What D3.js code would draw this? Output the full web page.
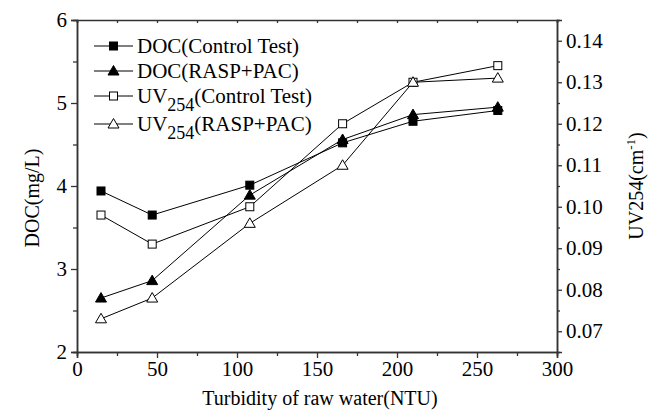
<!DOCTYPE html>
<html>
<head>
<meta charset="utf-8">
<script src="https://d3js.org/d3.v7.min.js"></script>
<style>
  body { margin: 0; background: #fff; }
  text { font-family: "Liberation Serif", "Times New Roman", serif; fill: #000; }
</style>
</head>
<body>
<script>
var svgWidth = 657;
var svgHeight = 417;

// plot box
var margin = { top: 20, right: 100, bottom: 65, left: 77 };
var chartWidth = svgWidth - margin.left - margin.right;
var chartHeight = svgHeight - margin.top - margin.bottom;

// data
var turbidity = [15, 47, 108, 166, 210, 263];
var docControl = [3.94, 3.65, 4.01, 4.52, 4.78, 4.91];
var docRasp = [2.65, 2.86, 3.89, 4.56, 4.86, 4.95];
var uvControl = [0.098, 0.091, 0.100, 0.120, 0.130, 0.134];
var uvRasp = [0.073, 0.078, 0.096, 0.110, 0.130, 0.131];

var xTicks = [0, 50, 100, 150, 200, 250, 300];
var xMinor = [25, 75, 125, 175, 225, 275];
var yLeftTicks = [2, 3, 4, 5, 6];
var yLeftMinor = [2.5, 3.5, 4.5, 5.5];
var yRightTicks = [0.07, 0.08, 0.09, 0.10, 0.11, 0.12, 0.13, 0.14];
var yRightMinor = [0.075, 0.085, 0.095, 0.105, 0.115, 0.125, 0.135];

var series = [
  { name: "DOC", sub: "", rest: "(Control Test)", values: docControl, axis: "left", shape: "square", fill: "#000" },
  { name: "DOC", sub: "", rest: "(RASP+PAC)", values: docRasp, axis: "left", shape: "triangle", fill: "#000" },
  { name: "UV", sub: "254", rest: "(Control Test)", values: uvControl, axis: "right", shape: "square", fill: "#fff" },
  { name: "UV", sub: "254", rest: "(RASP+PAC)", values: uvRasp, axis: "right", shape: "triangle", fill: "#fff" }
];

var svg = d3.select("body").append("svg")
  .attr("width", svgWidth)
  .attr("height", svgHeight);

var chartGroup = svg.append("g")
  .attr("transform", `translate(${margin.left}, ${margin.top})`);

var xScale = d3.scaleLinear().domain([0, 300]).range([0, chartWidth]);
var yLeft = d3.scaleLinear().domain([2, 6]).range([chartHeight, 0]);
var yRight = d3.scaleLinear().domain([0.065, 0.145]).range([chartHeight, 0]);

function styleAxis(g) {
  g.select(".domain").attr("stroke", "#333").attr("stroke-width", 1.5);
  g.selectAll(".tick line").attr("stroke", "#333").attr("stroke-width", 1.3);
  g.selectAll(".tick text")
    .style("font-family", '"Liberation Serif", serif')
    .style("font-size", "21px")
    .attr("fill", "#000");
}

// bottom axis
chartGroup.append("g")
  .attr("transform", `translate(0, ${chartHeight})`)
  .call(d3.axisBottom(xScale).tickValues(xTicks).tickSize(6).tickPadding(3).tickFormat(d3.format("d")))
  .call(styleAxis);
chartGroup.append("g")
  .attr("transform", `translate(0, ${chartHeight})`)
  .call(d3.axisBottom(xScale).tickValues(xMinor).tickSize(4).tickFormat(""))
  .call(styleAxis);

// top axis (ticks inward)
chartGroup.append("g")
  .call(d3.axisBottom(xScale).tickValues(xTicks.concat(xMinor)).tickSize(3).tickFormat(""))
  .call(styleAxis);

// left axis
chartGroup.append("g")
  .call(d3.axisLeft(yLeft).tickValues(yLeftTicks).tickSize(6).tickPadding(4).tickFormat(d3.format("d")))
  .call(styleAxis);
chartGroup.append("g")
  .call(d3.axisLeft(yLeft).tickValues(yLeftMinor).tickSize(4).tickFormat(""))
  .call(styleAxis);

// right axis
chartGroup.append("g")
  .attr("transform", `translate(${chartWidth}, 0)`)
  .call(d3.axisRight(yRight).tickValues(yRightTicks).tickSize(5).tickPadding(4).tickFormat(d3.format(".2f")))
  .call(styleAxis);
chartGroup.append("g")
  .attr("transform", `translate(${chartWidth}, 0)`)
  .call(d3.axisRight(yRight).tickValues(yRightMinor).tickSize(3).tickFormat(""))
  .call(styleAxis);

// series lines
series.forEach(s => {
  var yS = s.axis === "left" ? yLeft : yRight;
  var pts = turbidity.map((t, i) => [xScale(t), yS(s.values[i])]);
  chartGroup.append("path")
    .attr("d", d3.line()(pts))
    .attr("fill", "none")
    .attr("stroke", "#000")
    .attr("stroke-width", 1);
});

function drawMarker(g, shape, fill, cx, cy) {
  if (shape === "square") {
    g.append("rect")
      .attr("x", cx - 4).attr("y", cy - 4)
      .attr("width", 8).attr("height", 8)
      .attr("fill", fill).attr("stroke", "#000").attr("stroke-width", 1);
  } else {
    g.append("path")
      .attr("d", `M${cx},${cy - 5.5}L${cx + 5.5},${cy + 4}L${cx - 5.5},${cy + 4}Z`)
      .attr("fill", fill).attr("stroke", "#000").attr("stroke-width", 1);
  }
}

// markers
series.forEach(s => {
  var yS = s.axis === "left" ? yLeft : yRight;
  turbidity.forEach((t, i) => {
    drawMarker(chartGroup, s.shape, s.fill, xScale(t), yS(s.values[i]));
  });
});

// legend
var legendRows = [46, 71, 96, 124];
var legend = svg.append("g");
series.forEach((s, i) => {
  var ly = legendRows[i];
  legend.append("line")
    .attr("x1", 94).attr("x2", 133).attr("y1", ly).attr("y2", ly)
    .attr("stroke", "#000").attr("stroke-width", 1);
  drawMarker(legend, s.shape, s.fill, 113.5, ly);
  var t = legend.append("text")
    .attr("x", 137).attr("y", ly + 7)
    .style("font-size", "21px");
  t.append("tspan").text(s.name);
  if (s.sub) {
    t.append("tspan").attr("dy", 8).style("font-size", "18px").text(s.sub);
    t.append("tspan").attr("dy", -8).text(s.rest);
  } else {
    t.append("tspan").text(s.rest);
  }
});

// axis titles
svg.append("text")
  .attr("x", 320)
  .attr("y", 405)
  .attr("text-anchor", "middle")
  .style("font-size", "20px")
  .text("Turbidity of raw water(NTU)");

svg.append("text")
  .attr("transform", "translate(39, 198) rotate(-90)")
  .attr("text-anchor", "middle")
  .style("font-size", "20px")
  .text("DOC(mg/L)");

var rt = svg.append("text")
  .attr("transform", "translate(643, 186) rotate(-90)")
  .attr("text-anchor", "middle")
  .style("font-size", "20px");
rt.append("tspan").text("UV254(cm");
rt.append("tspan").attr("dy", -8).style("font-size", "13px").text("-1");
rt.append("tspan").attr("dy", 8).text(")");
</script>
</body>
</html>
